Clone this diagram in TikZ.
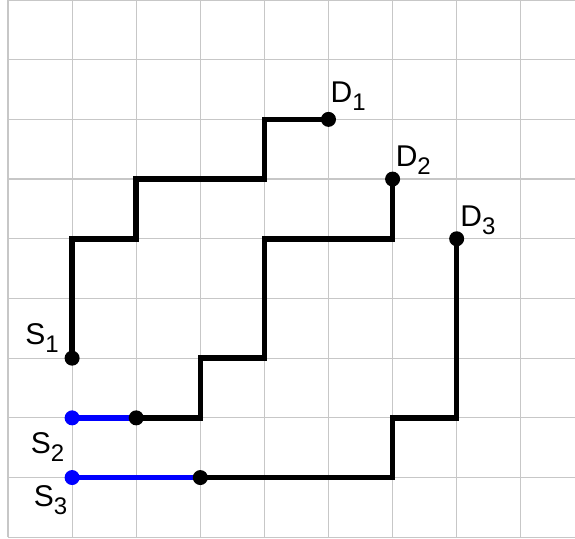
\documentclass[tikz,border=0pt]{standalone}
\usepackage{fontspec}
\setmainfont{Liberation Sans}
\usepackage{xcolor}
\usetikzlibrary{positioning}
\newcommand{\pin}[2]{#1\raisebox{-8pt}{\fontsize{24}{24}\selectfont #2}}

\begin{document}
\begin{tikzpicture}[x=64.1pt,y=59.7pt,
  every node/.style={font=\fontsize{30}{30}\selectfont},
  gridline/.style={draw=black!22,line width=1.2pt},
  route/.style={line width=5.5pt,line join=miter},
  dot/.style={circle,fill,inner sep=0pt,minimum size=15pt},
  tag/.style={inner sep=0pt,anchor=base west}]
  \useasboundingbox (-0.125,-0.02) rectangle (8.846,9.0);
  \fill[white] (-0.125,-0.02) rectangle (8.846,9.0);
  % grid
  \draw[gridline,step={(1,1)}] (0,0) grid (8.846,9);
  % sources, sinks, joints
  \coordinate (S1) at (1,3);
  \coordinate (S2) at (1,2);
  \coordinate (S3) at (1,1);
  \coordinate (J2) at (2,2);
  \coordinate (J3) at (3,1);
  \coordinate (D1) at (5,7);
  \coordinate (D2) at (6,6);
  \coordinate (D3) at (7,5);
  % routes
  \draw[route] (S1) |- (2,5) |- (4,6) |- (D1);
  \draw[route] (J2) -| (3,3) -| (4,5) -| (D2);
  \draw[route] (J3) -| (6,2) -| (D3);
  \draw[route,blue] (S2) -- (J2);
  \draw[route,blue] (S3) -- (J3);
  % dots
  \foreach \p in {S1,J2,J3,D1,D2,D3}
    \node[dot] (dot\p) at (\p) {};
  \foreach \p in {S2,S3}
    \node[dot,fill=blue] (dot\p) at (\p) {};
  % labels
  \node[tag] (tS1) at ([shift={(-47pt,14pt)}]S1) {\pin{S}{1}};
  \node[tag] (tS2) at ([shift={(-41.5pt,-36pt)}]S2) {\pin{S}{2}};
  \node[tag] (tS3) at ([shift={(-38.5pt,-29pt)}]S3) {\pin{S}{3}};
  \node[tag] (tD1) at ([shift={(2pt,17pt)}]D1) {\pin{D}{1}};
  \node[tag] (tD2) at ([shift={(3pt,12.5pt)}]D2) {\pin{D}{2}};
  \node[tag] (tD3) at ([shift={(3.5pt,12pt)}]D3) {\pin{D}{3}};
\end{tikzpicture}
\end{document}
